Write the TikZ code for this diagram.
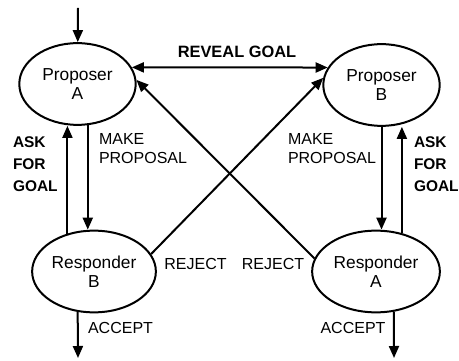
\documentclass[tikz,border=0pt]{standalone}
\usepackage{fontspec}
\setmainfont{Liberation Sans}
\usetikzlibrary{arrows.meta,shapes.geometric}

\begin{document}
\begin{tikzpicture}[x=0.75pt,y=0.75pt,line width=1.5pt,
  agent/.style={draw,ellipse,inner sep=0pt,align=center,minimum height=61.3pt,
    font=\fontsize{13}{14.5}\selectfont},
  lbl/.style={inner sep=0pt,font=\fontsize{12}{14.6}\selectfont,align=left},
  boldlbl/.style={inner sep=0pt,font=\fontsize{11.6}{16.5}\selectfont\bfseries,align=left},
  arr/.style={-{Triangle[length=9pt,width=7.5pt]}},
  twoway/.style={{Triangle[length=9pt,width=7.5pt]}-{Triangle[length=9pt,width=7.5pt]}}]
\useasboundingbox (0,0) rectangle (459,360);

\node[agent,minimum width=87.3pt] (PA) at (77.5,276) {Proposer\\A};
\node[agent,minimum width=87.3pt] (PB) at (381.5,275) {Proposer\\B};
\node[agent,minimum width=92.8pt] (RB) at (94,88.5) {Responder\\B};
\node[agent,minimum width=95.8pt] (RA) at (376,88.5) {Responder\\A};

\coordinate (start) at (78,352);
\coordinate (acceptB) at (78,2);
\coordinate (acceptA) at (394,2);

\draw[arr] (start) -- (PA);
\draw[twoway] (PA.17) -- (PB.162);
\node[boldlbl,font=\fontsize{12.3}{14}\selectfont\bfseries] (reveal) at (237,308) {REVEAL GOAL};

\draw[arr] (PA.284) -- (PA.284 |- RB.north);
\draw[arr] (RB.125) -- (RB.125 |- PA.south);
\node[lbl,anchor=west] (makeA) at (98,211.5) {MAKE\\PROPOSAL};
\node[boldlbl,anchor=west] (askB) at (12,196) {ASK\\FOR\\GOAL};

\draw[arr] (PB.south) -- (PB.south |- RA.north);
\draw[arr] (RA.56) -- (RA.56 |- PB.south);
\node[lbl,anchor=west] (makeB) at (287,211.5) {MAKE\\PROPOSAL};
\node[boldlbl,anchor=west] (askA) at (413,196) {ASK\\FOR\\GOAL};

\draw[arr] (RB.17) -- (PB.173);
\draw[arr] (RA.168) -- (PA.4);
\node[lbl] (rejectB) at (195.5,96) {REJECT};
\node[lbl] (rejectA) at (273,96) {REJECT};

\draw[arr] (RB.248) -- (acceptB);
\draw[arr] (RA.294) -- (acceptA);
\node[lbl] (acceptLblB) at (120.5,32) {ACCEPT};
\node[lbl] (acceptLblA) at (353,32) {ACCEPT};
\end{tikzpicture}
\end{document}
